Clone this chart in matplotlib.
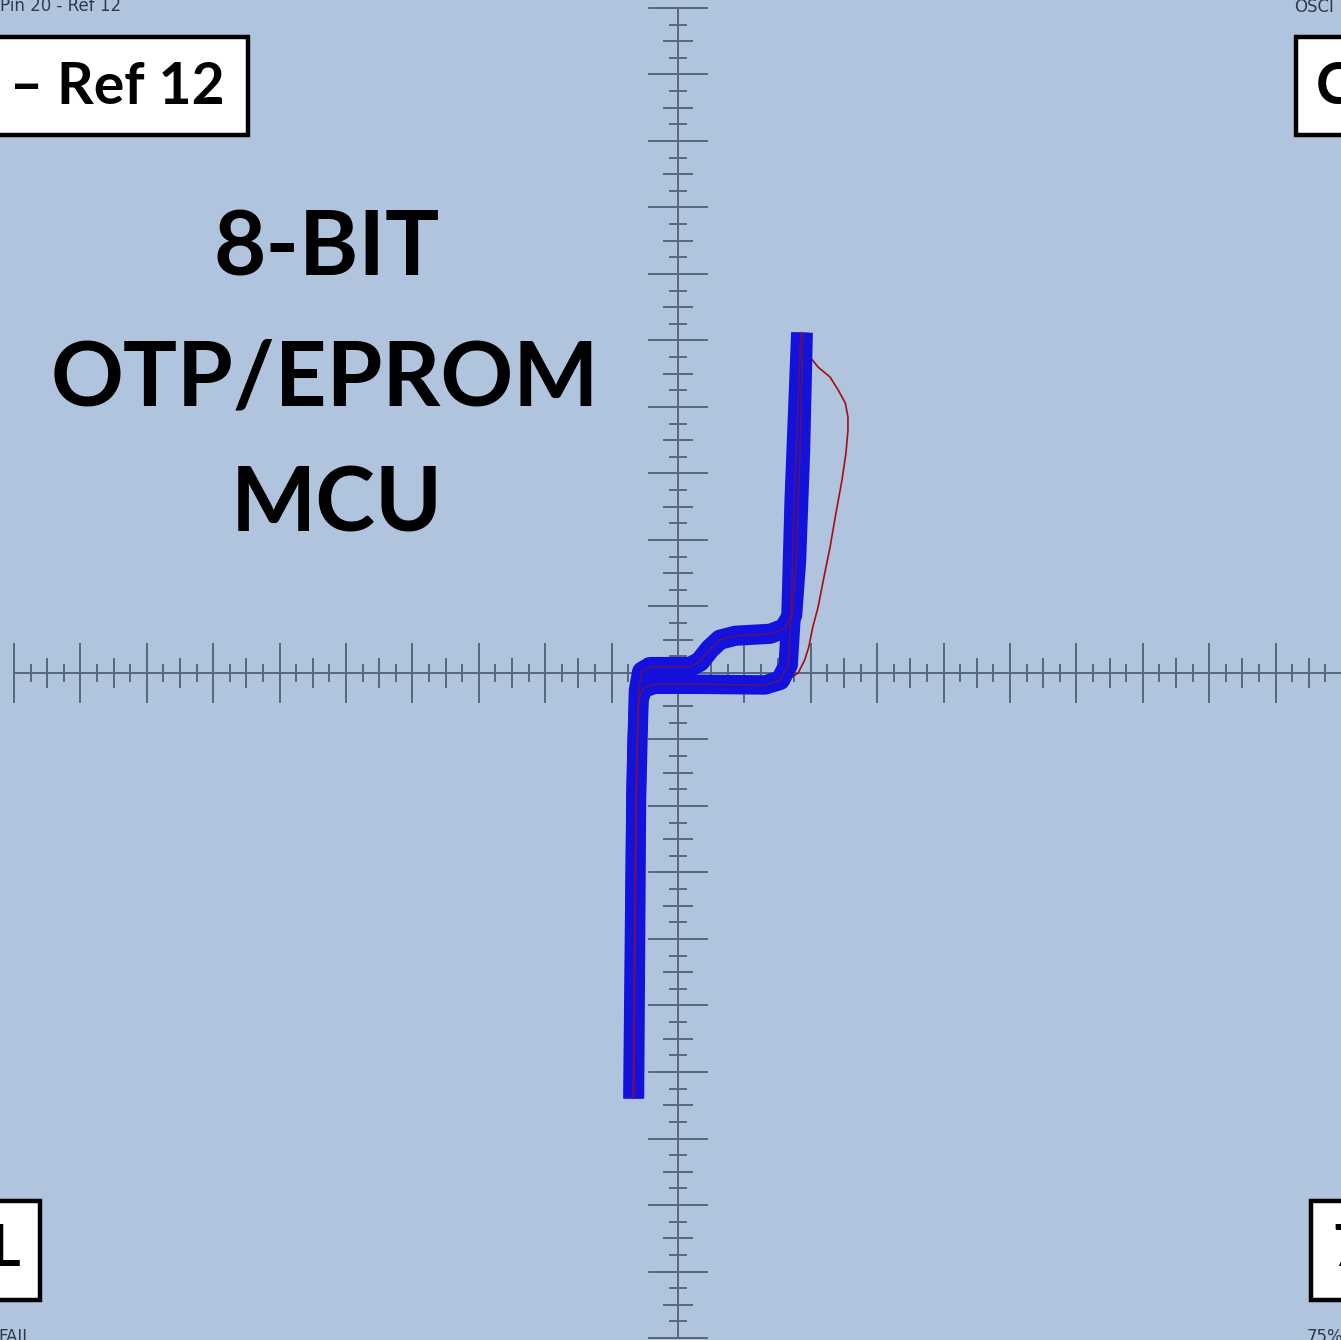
import numpy as np
import matplotlib.pyplot as plt
from matplotlib.patches import Rectangle

# figure size in pixels
W, H = 1341, 1340
BG = '#b0c4de'
AXIS_COL = '#56677a'
BLUE = '#1212dc'
RED = '#a01010'

# trace data, in screen divisions (x: volts/div, y: current/div)
fwd_x = [-0.68, -0.65, -0.62, -0.59, -0.53, -0.35, 0.33, 1.31, 1.54, 1.66, 1.70, 1.75, 1.81, 1.85]
fwd_y = [-6.40, -3.41, -1.16, -0.41, -0.23, -0.17, -0.17, -0.18, -0.11, 0.12, 0.80, 2.60, 4.11, 5.12]

ret_x = [1.88, 1.84, 1.78, 1.72, 1.60, 1.39, 0.86, 0.63, 0.48, 0.33, 0.18, -0.42, -0.54, -0.59, -0.63, -0.66]
ret_y = [5.12, 3.35, 1.70, 0.87, 0.67, 0.59, 0.56, 0.50, 0.36, 0.17, 0.09, 0.09, 0.02, -0.26, -1.91, -6.40]

ref_x = [1.85, 1.99, 2.11, 2.29, 2.41, 2.52, 2.56, 2.56, 2.53, 2.47, 2.38, 2.29, 2.21, 2.11, 2.03, 1.97, 1.91, 1.81, 1.69, 1.54, 1.39]
ref_y = [4.95, 4.75, 4.60, 4.45, 4.26, 4.06, 3.85, 3.65, 3.31, 2.90, 2.41, 1.89, 1.50, 0.99, 0.69, 0.39, 0.20, 0.00, -0.08, -0.14, -0.18]

title_lines = ['8-BIT', 'OTP/EPROM', 'MCU']

fig = plt.figure(figsize=(W / 100, H / 100), dpi=100, facecolor=BG)
ax = fig.add_axes([0, 0, 1, 1])
ax.set_facecolor(BG)
ax.set_xlim(-10.21, 9.985)
ax.set_ylim(-10.03, 10.12)
ax.axis('off')

# crosshair with graduations
ax.plot([-10, 10], [0, 0], color=AXIS_COL, lw=1.4, zorder=1)
ax.plot([0, 0], [-10, 10], color=AXIS_COL, lw=1.4, zorder=1)
q = np.arange(-40, 41) / 4.0
for t in q:
    if t == 0:
        continue
    if t == int(t):
        h = 0.43
    elif (t * 2) == int(t * 2):
        h = 0.21
    else:
        h = 0.12
    ax.plot([t, t], [-h, h], color=AXIS_COL, lw=1.4, zorder=1)
    ax.plot([-h, h], [t, t], color=AXIS_COL, lw=1.4, zorder=1)

# reference trace (thin) and measured trace (thick)
ax.plot(ref_x, ref_y, color=RED, lw=1.2, zorder=2)
ax.plot(fwd_x, fwd_y, color=BLUE, lw=14, solid_capstyle='butt', solid_joinstyle='round', zorder=3)
ax.plot(ret_x, ret_y, color=BLUE, lw=14.5, solid_capstyle='butt', solid_joinstyle='round', zorder=3)
ax.plot(fwd_x, fwd_y, color=RED, lw=1.0, alpha=0.6, zorder=4)
ax.plot(ret_x, ret_y, color=RED, lw=1.0, alpha=0.6, zorder=4)


def fx(px):
    return px / W


def fy(py):
    return 1 - py / H


# label boxes at the corners
boxes = [(-10, 37, 258, 98), (1296, 37, 60, 98), (-10, 1201, 50, 99), (1311, 1201, 50, 99)]
for bx, by, bw, bh in boxes:
    fig.add_artist(Rectangle((fx(bx), fy(by + bh)), bw / W, bh / H, transform=fig.transFigure,
                             facecolor='white', edgecolor='black', lw=3.2, zorder=5))

big = dict(family='Lato', weight='bold', color='black', zorder=6)
fig.text(fx(10), fy(88), '\u2013 Ref 12', fontsize=41, ha='left', va='center', **big)
fig.text(fx(1316), fy(88), 'C', fontsize=41, ha='left', va='center', **big)
fig.text(fx(20), fy(1250), 'L', fontsize=41, ha='right', va='center', **big)
fig.text(fx(1332), fy(1250), '7', fontsize=41, ha='left', va='center', **big)

# chip name
for txt, cx, cy in zip(title_lines, [327, 325, 337], [250, 380, 505]):
    fig.text(fx(cx), fy(cy), txt, fontsize=65, ha='center', va='center',
             family='Lato', weight='bold', color='black')

small = dict(fontsize=12, color='#2e3a48', family='DejaVu Sans')
fig.text(fx(0), fy(11), 'Pin 20 - Ref 12', ha='left', va='baseline', **small)
fig.text(fx(1294), fy(12), 'OSCI', ha='left', va='baseline', **small)
fig.text(fx(-2), fy(1328), 'FAIL', ha='left', va='top', **small)
fig.text(fx(1307), fy(1328), '75%', ha='left', va='top', **small)

plt.savefig('out.png', dpi=100, facecolor=BG)
